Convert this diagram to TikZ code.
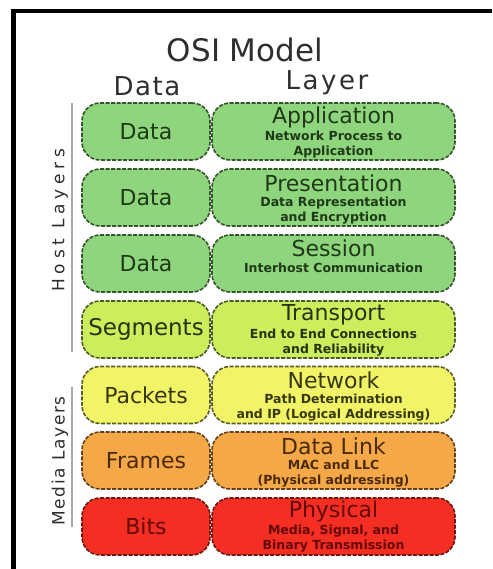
\documentclass[tikz,border=0pt]{standalone}
\usepackage{fontspec}
\setmainfont{DejaVu Sans}
\definecolor{gfill}{HTML}{8FD57D}
\definecolor{gline}{HTML}{34552A}
\definecolor{gtext}{HTML}{1E3A16}
\definecolor{tfill}{HTML}{CDEE5C}
\definecolor{tline}{HTML}{4A5A22}
\definecolor{ttext}{HTML}{263410}
\definecolor{nfill}{HTML}{F1F466}
\definecolor{nline}{HTML}{5C5C28}
\definecolor{ntext}{HTML}{38380E}
\definecolor{dfill}{HTML}{F5A848}
\definecolor{dline}{HTML}{634018}
\definecolor{dtext}{HTML}{4A2A08}
\definecolor{pfill}{HTML}{F52E24}
\definecolor{pline}{HTML}{6E160C}
\definecolor{ptext}{HTML}{650808}
\definecolor{headgray}{HTML}{2E2E2E}
\definecolor{sepgray}{HTML}{A8A8A8}
\tikzset{
  box/.style={draw=#1, line width=1.6pt, dash pattern=on 4pt off 1.5pt, rounded corners=18pt, minimum height=57pt, inner sep=0pt},
  leftbox/.style={box=#1, minimum width=128pt},
  rightbox/.style={box=#1, minimum width=243pt},
  lbl/.style={font=\fontsize{22}{26}\selectfont, inner sep=0pt},
  subtxt/.style={font=\fontsize{12.5}{15}\selectfont\bfseries, align=center, inner sep=0pt},
  head/.style={text=headgray, inner sep=0pt},
  sidelbl/.style={text=headgray, rotate=90, inner sep=0pt},
  sepline/.style={draw=sepgray, line width=1.5pt},
  frame/.style={fill=black, draw=none}
}
\begin{document}
\begin{tikzpicture}[x=1pt,y=-1pt]
\useasboundingbox (0,0) rectangle (492,569);
% black frame
\fill[frame] (11,9) rectangle (492,13);
\fill[frame] (11,9) rectangle (16,569);
% title and headers
\node[head, font=\fontsize{31}{36}\selectfont] (title) at (245,50) {OSI Model};
\node[head, font=\fontsize{26}{30}\selectfont\addfontfeatures{LetterSpace=6}] (hdata) at (147,86) {Data};
\node[head, font=\fontsize{26}{30}\selectfont\addfontfeatures{LetterSpace=10}] (hlayer) at (327,83) {Layer};
% side labels
\draw[sepline] (72,103) coordinate (hs) -- (72,352) coordinate (he);
\draw[sepline] (72,387) coordinate (ms) -- (72,527) coordinate (me);
\node[sidelbl, font=\fontsize{17}{20}\selectfont\addfontfeatures{LetterSpace=28}] (host) at (60,220) {Host Layers};
\node[sidelbl, font=\fontsize{17}{20}\selectfont\addfontfeatures{LetterSpace=10}] (media) at (60,461) {Media Layers};
% row 1 Application
\node[leftbox=gline, fill=gfill] (d1) at (146,131.5) {};
\node[rightbox=gline, fill=gfill] (l1) at (333.5,131.5) {};
\node[lbl, text=gtext] (d1t) at (d1) {Data};
\node[lbl, text=gtext] (l1t) at (333.5,117) {Application};
\node[subtxt, text=gtext] (l1s) at (333.5,144.5) {Network Process to\\Application};
% row 2 Presentation
\node[leftbox=gline, fill=gfill] (d2) at (146,197.5) {};
\node[rightbox=gline, fill=gfill] (l2) at (333.5,197.5) {};
\node[lbl, text=gtext] (d2t) at (d2) {Data};
\node[lbl, text=gtext] (l2t) at (333.5,183) {Presentation};
\node[subtxt, text=gtext] (l2s) at (333.5,210.5) {Data Representation\\and Encryption};
% row 3 Session
\node[leftbox=gline, fill=gfill] (d3) at (146,263.5) {};
\node[rightbox=gline, fill=gfill] (l3) at (333.5,263.5) {};
\node[lbl, text=gtext] (d3t) at (d3) {Data};
\node[lbl, text=gtext] (l3t) at (333.5,248) {Session};
\node[subtxt, text=gtext] (l3s) at (333.5,268) {Interhost Communication};
% row 4 Transport
\node[leftbox=tline, fill=tfill] (d4) at (146,329.5) {};
\node[rightbox=tline, fill=tfill] (l4) at (333.5,329.5) {};
\node[lbl, text=ttext, font=\fontsize{23}{27}\selectfont] (d4t) at (d4) {Segments};
\node[lbl, text=ttext] (l4t) at (333.5,315) {Transport};
\node[subtxt, text=ttext] (l4s) at (333.5,342.5) {End to End Connections\\and Reliability};
% row 5 Network
\node[leftbox=nline, fill=nfill] (d5) at (146,395) {};
\node[rightbox=nline, fill=nfill] (l5) at (333.5,395) {};
\node[lbl, text=ntext] (d5t) at (d5) {Packets};
\node[lbl, text=ntext] (l5t) at (333.5,380.5) {Network};
\node[subtxt, text=ntext] (l5s) at (333.5,408) {Path Determination\\and IP (Logical Addressing)};
% row 6 Data Link
\node[leftbox=dline, fill=dfill] (d6) at (146,460.5) {};
\node[rightbox=dline, fill=dfill] (l6) at (333.5,460.5) {};
\node[lbl, text=dtext] (d6t) at (d6) {Frames};
\node[lbl, text=dtext] (l6t) at (333.5,446) {Data Link};
\node[subtxt, text=dtext] (l6s) at (333.5,473.5) {MAC and LLC\\(Physical addressing)};
% row 7 Physical
\node[leftbox=pline, fill=pfill] (d7) at (146,526.5) {};
\node[rightbox=pline, fill=pfill] (l7) at (333.5,526.5) {};
\node[lbl, text=ptext] (d7t) at (d7) {Bits};
\node[lbl, text=ptext] (l7t) at (333.5,511) {Physical};
\node[subtxt, text=ptext] (l7s) at (333.5,538.5) {Media, Signal, and\\Binary Transmission};
\end{tikzpicture}
\end{document}
